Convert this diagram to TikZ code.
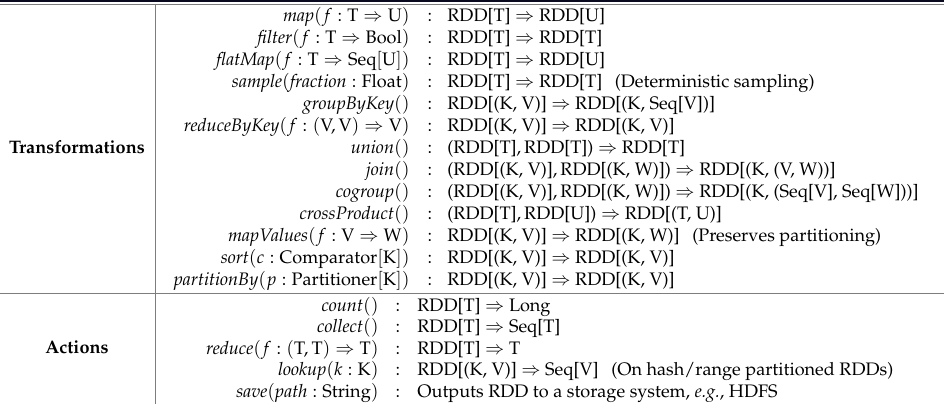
\documentclass[tikz,border=0pt]{standalone}
\usepackage[T1]{fontenc}
\usepackage{mathpazo}
\usepackage{amsmath}
\usepackage{xcolor}

\definecolor{toprule}{RGB}{10,10,30}
\definecolor{rulegray}{RGB}{125,125,125}

\begin{document}
\begin{tikzpicture}[x=0.5pt, y=-0.5pt, font=\fontsize{9.05}{11}\selectfont,
    op/.style={anchor=base east, inner sep=0pt},
    sep/.style={anchor=base, inner sep=0pt},
    sig/.style={anchor=base west, inner sep=0pt}]

      \useasboundingbox (0, 0) rectangle (944, 404);

      % rules of the table
      \draw[toprule, line width=1.2pt] (0, 1.2) -- (944, 1.2);
      \draw[rulegray, line width=0.5pt] (0, 4.8) -- (944, 4.8);
      \draw[rulegray, line width=0.5pt] (155, 4.8) -- (155, 404);
      \draw[rulegray, line width=0.5pt] (0, 293) -- (944, 293);

      \node[anchor=base, inner sep=0pt] (trans) at (77, 153) {\textbf{Transformations}};
      \node[anchor=base, inner sep=0pt] (act) at (77, 353) {\textbf{Actions}};

      % transformations
      \node[op] (map) at (410, 21) {$\mathit{map}(f : \mathrm{T} \Rightarrow \mathrm{U})$};
      \node[sep] (map-c) at (430, 21) {:};
      \node[sig] (map-t) at (447, 21) {RDD[T] $\Rightarrow$ RDD[U]};

      \node[op] (filter) at (410, 43) {$\mathit{filter}(f : \mathrm{T} \Rightarrow \mathrm{Bool})$};
      \node[sep] (filter-c) at (430, 43) {:};
      \node[sig] (filter-t) at (447, 43) {RDD[T] $\Rightarrow$ RDD[T]};

      \node[op] (flatmap) at (410, 65) {$\mathit{flatMap}(f : \mathrm{T} \Rightarrow \mathrm{Seq[U]})$};
      \node[sep] (flatmap-c) at (430, 65) {:};
      \node[sig] (flatmap-t) at (447, 65) {RDD[T] $\Rightarrow$ RDD[U]};

      \node[op] (sample) at (410, 87) {$\mathit{sample}(\mathit{fraction} : \mathrm{Float})$};
      \node[sep] (sample-c) at (430, 87) {:};
      \node[sig] (sample-t) at (447, 87) {RDD[T] $\Rightarrow$ RDD[T]\hspace{0.7em}(Deterministic sampling)};

      \node[op] (groupbykey) at (410, 109) {$\mathit{groupByKey}()$};
      \node[sep] (groupbykey-c) at (430, 109) {:};
      \node[sig] (groupbykey-t) at (447, 109) {RDD[(K, V)] $\Rightarrow$ RDD[(K, Seq[V])]};

      \node[op] (reducebykey) at (410, 131) {$\mathit{reduceByKey}(f : (\mathrm{V}, \mathrm{V}) \Rightarrow \mathrm{V})$};
      \node[sep] (reducebykey-c) at (430, 131) {:};
      \node[sig] (reducebykey-t) at (447, 131) {RDD[(K, V)] $\Rightarrow$ RDD[(K, V)]};

      \node[op] (union) at (410, 153) {$\mathit{union}()$};
      \node[sep] (union-c) at (430, 153) {:};
      \node[sig] (union-t) at (447, 153) {(RDD[T],\,RDD[T]) $\Rightarrow$ RDD[T]};

      \node[op] (join) at (410, 175) {$\mathit{join}()$};
      \node[sep] (join-c) at (430, 175) {:};
      \node[sig] (join-t) at (447, 175) {(RDD[(K, V)],\,RDD[(K, W)]) $\Rightarrow$ RDD[(K, (V, W))]};

      \node[op] (cogroup) at (410, 197) {$\mathit{cogroup}()$};
      \node[sep] (cogroup-c) at (430, 197) {:};
      \node[sig] (cogroup-t) at (447, 197) {(RDD[(K, V)],\,RDD[(K, W)]) $\Rightarrow$ RDD[(K, (Seq[V], Seq[W]))]};

      \node[op] (crossproduct) at (410, 219) {$\mathit{crossProduct}()$};
      \node[sep] (crossproduct-c) at (430, 219) {:};
      \node[sig] (crossproduct-t) at (447, 219) {(RDD[T],\,RDD[U]) $\Rightarrow$ RDD[(T, U)]};

      \node[op] (mapvalues) at (410, 241) {$\mathit{mapValues}(f : \mathrm{V} \Rightarrow \mathrm{W})$};
      \node[sep] (mapvalues-c) at (430, 241) {:};
      \node[sig] (mapvalues-t) at (447, 241) {RDD[(K, V)] $\Rightarrow$ RDD[(K, W)]\hspace{0.7em}(Preserves partitioning)};

      \node[op] (sort) at (410, 263) {$\mathit{sort}(c : \mathrm{Comparator[K]})$};
      \node[sep] (sort-c) at (430, 263) {:};
      \node[sig] (sort-t) at (447, 263) {RDD[(K, V)] $\Rightarrow$ RDD[(K, V)]};

      \node[op] (partitionby) at (410, 285) {$\mathit{partitionBy}(p : \mathrm{Partitioner[K]})$};
      \node[sep] (partitionby-c) at (430, 285) {:};
      \node[sig] (partitionby-t) at (447, 285) {RDD[(K, V)] $\Rightarrow$ RDD[(K, V)]};

      % actions
      \node[op] (count) at (379, 311) {$\mathit{count}()$};
      \node[sep] (count-c) at (398, 311) {:};
      \node[sig] (count-t) at (417, 311) {RDD[T] $\Rightarrow$ Long};

      \node[op] (collect) at (379, 332.5) {$\mathit{collect}()$};
      \node[sep] (collect-c) at (398, 332.5) {:};
      \node[sig] (collect-t) at (417, 332.5) {RDD[T] $\Rightarrow$ Seq[T]};

      \node[op] (reduce) at (379, 354) {$\mathit{reduce}(f : (\mathrm{T}, \mathrm{T}) \Rightarrow \mathrm{T})$};
      \node[sep] (reduce-c) at (398, 354) {:};
      \node[sig] (reduce-t) at (417, 354) {RDD[T] $\Rightarrow$ T};

      \node[op] (lookup) at (379, 375.5) {$\mathit{lookup}(k : \mathrm{K})$};
      \node[sep] (lookup-c) at (398, 375.5) {:};
      \node[sig] (lookup-t) at (417, 375.5) {RDD[(K, V)] $\Rightarrow$ Seq[V]\hspace{0.7em}(On hash/range partitioned RDDs)};

      \node[op] (save) at (379, 397) {$\mathit{save}(\mathit{path} : \mathrm{String})$};
      \node[sep] (save-c) at (398, 397) {:};
      \node[sig] (save-t) at (417, 397) {Outputs RDD to a storage system, \textit{e.g.}, HDFS};

    \end{tikzpicture}
\end{document}
